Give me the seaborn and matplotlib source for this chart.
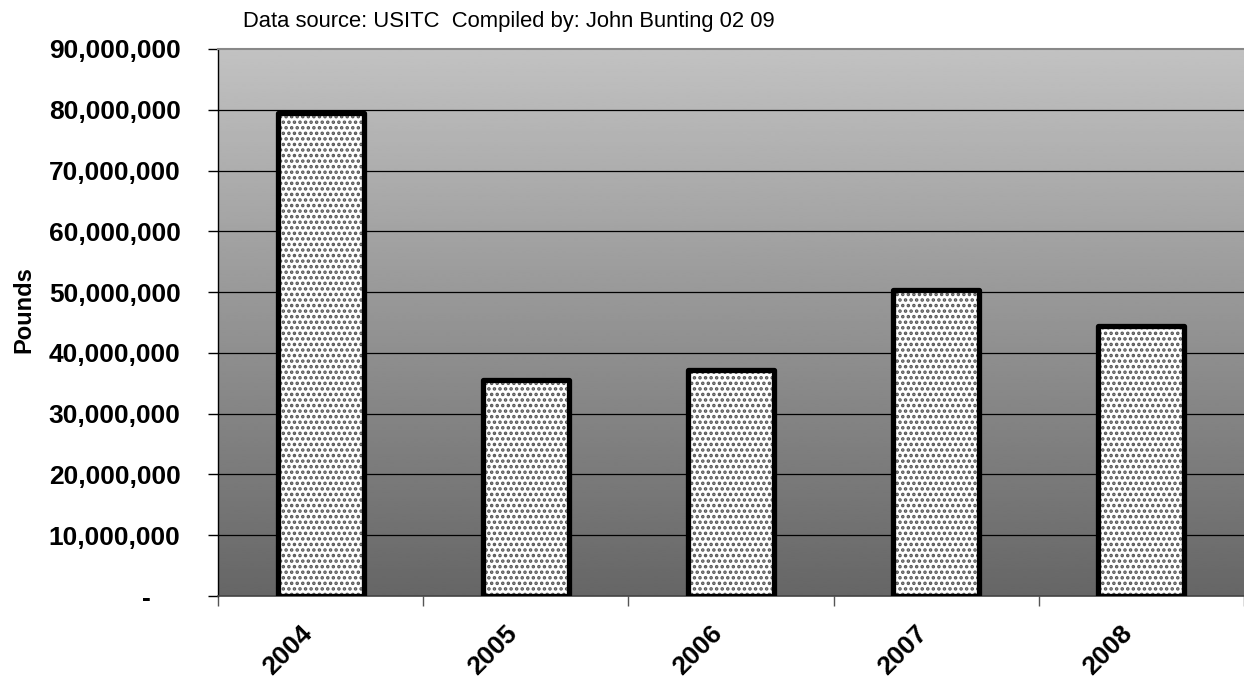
import numpy as np
import pandas as pd
import matplotlib
matplotlib.use("Agg")
import matplotlib.pyplot as plt
import matplotlib.transforms as mtransforms
from matplotlib.ticker import FuncFormatter
import seaborn as sns

years = ["2004", "2005", "2006", "2007", "2008"]
pounds = [79_400_000, 35_500_000, 37_200_000, 50_300_000, 44_500_000]
y_ticks = [0, 10_000_000, 20_000_000, 30_000_000, 40_000_000,
           50_000_000, 60_000_000, 70_000_000, 80_000_000, 90_000_000]
source_note = "Data source: USITC  Compiled by: John Bunting 02 09"
y_title = "Pounds"

sns.set_theme(style="white")
plt.rcParams["font.family"] = ["Liberation Sans", "DejaVu Sans"]
plt.rcParams["hatch.linewidth"] = 1.7
plt.rcParams["hatch.color"] = "#555555"
plt.rcParams["text.color"] = "black"
plt.rcParams["xtick.color"] = "black"
plt.rcParams["ytick.color"] = "black"
plt.rcParams["axes.labelcolor"] = "black"

df = pd.DataFrame({"year": years, "pounds": pounds})

fig = plt.figure(figsize=(12.44, 6.83), dpi=100)
ax = fig.add_axes([218 / 1244, 1 - 596 / 683, 1 - 218 / 1244, (596 - 49) / 683])

# stippled fill, then a heavy black outline on top
sns.barplot(data=df, x="year", y="pounds", ax=ax, width=0.42,
            color="white", saturation=1, edgecolor="#555555", linewidth=0,
            hatch="...", zorder=3)
sns.barplot(data=df, x="year", y="pounds", ax=ax, width=0.42,
            fill=False, edgecolor="black", linewidth=3.8, zorder=4)
for p in ax.patches:
    p.set_joinstyle("round")

ax.set_xlim(-0.5, len(years) - 0.5)

# vertical grey gradient behind the bars (light at top, dark at bottom)
grad = np.linspace(0.76, 0.40, 256).reshape(-1, 1)
ax.imshow(grad, cmap="gray", vmin=0, vmax=1, aspect="auto", origin="upper",
          extent=(-0.5, len(years) - 0.5, 0, 90_000_000), zorder=0,
          interpolation="bilinear")
ax.set_xlim(-0.5, len(years) - 0.5)
ax.set_ylim(0, 90_000_000)

for t in y_ticks[1:-1]:
    ax.axhline(t, color="black", linewidth=0.9, zorder=1)

ax.set_yticks(y_ticks)
ax.yaxis.set_major_formatter(FuncFormatter(
    lambda v, pos: "-    " if v == 0 else f"{int(v):,}"))
ax.tick_params(axis="y", which="major", direction="out", length=7, width=1,
               color="black", left=True, labelsize=19, pad=20)
for lbl in ax.get_yticklabels():
    lbl.set_fontweight("bold")

# category boundary ticks on the x axis
ax.set_xticks(np.arange(-0.5, len(years), 1.0), minor=True)
ax.set_xticks(range(len(years)))
ax.set_xticklabels(years, rotation=45, ha="right", rotation_mode="anchor",
                   fontsize=19, fontweight="bold")
ax.tick_params(axis="x", which="major", length=0, pad=14)
ax.tick_params(axis="x", which="minor", direction="out", length=7, width=1,
               color="#555555", bottom=True)
shift = mtransforms.ScaledTranslation(-0.21, -0.06, fig.dpi_scale_trans)
for lbl in ax.get_xticklabels():
    lbl.set_transform(lbl.get_transform() + shift)

ax.set_xlabel("")
ax.set_ylabel(y_title, fontsize=17, fontweight="bold")
ax.yaxis.set_label_coords(-0.178, 0.523)

ax.spines["right"].set_visible(False)
ax.spines["left"].set_color("black")
ax.spines["left"].set_linewidth(1.0)
ax.spines["bottom"].set_color("#444444")
ax.spines["bottom"].set_linewidth(1.2)
ax.spines["top"].set_color("#888888")
ax.spines["top"].set_linewidth(1.5)

fig.text(243 / 1244, 1 - 22 / 683, source_note, fontsize=15.8,
         ha="left", va="center", color="black")

fig.savefig("out.png", dpi=100)
